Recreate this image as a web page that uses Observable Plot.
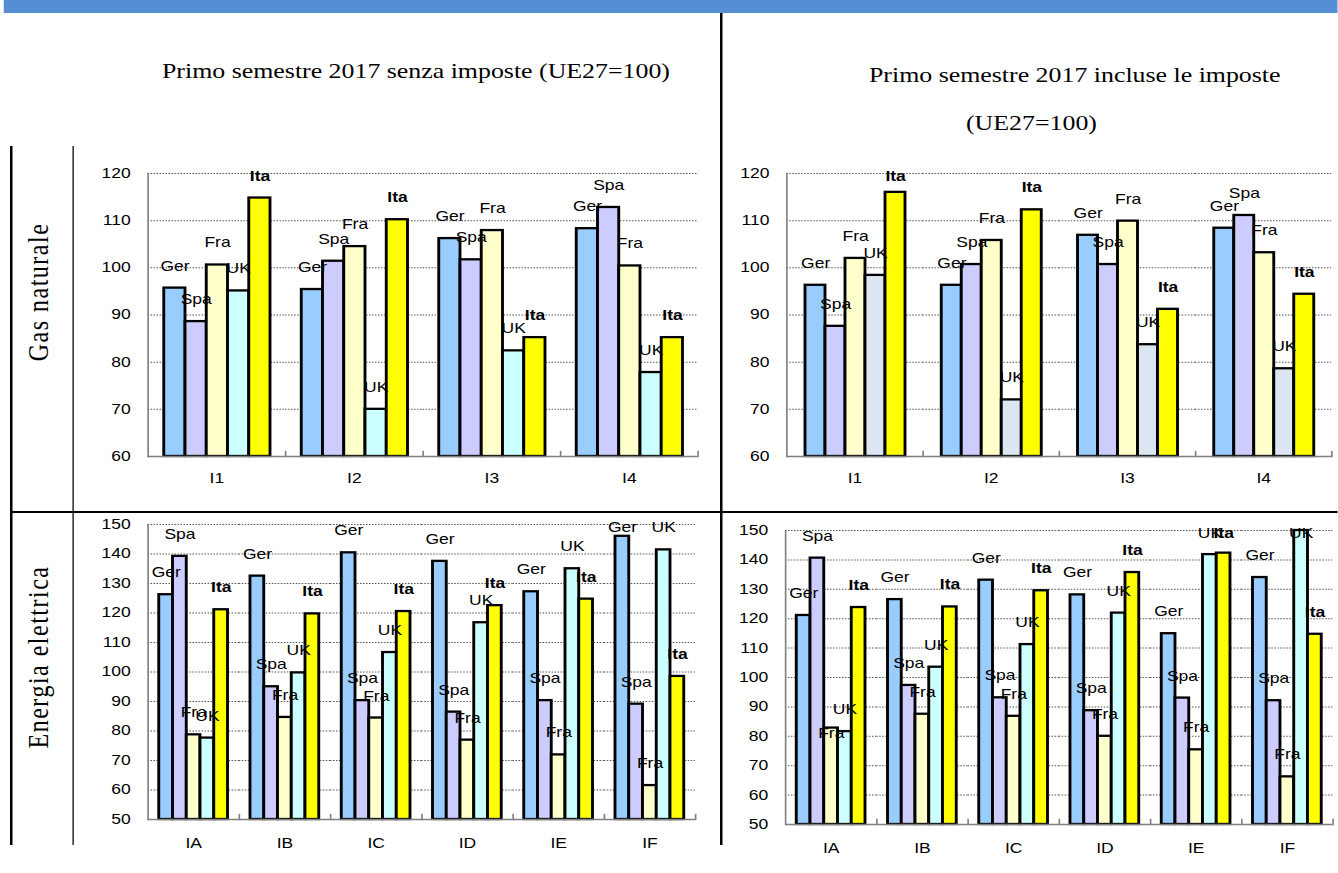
<!DOCTYPE html>
<html>
<head>
<meta charset="utf-8">
<script src="https://cdn.jsdelivr.net/npm/d3@7"></script>
<script src="https://cdn.jsdelivr.net/npm/@observablehq/plot@0.6"></script>
<style>
  html, body { margin: 0; padding: 0; background: #fff; width: 1338px; height: 873px; overflow: hidden; }
  #page { position: absolute; left: 0; top: 0; width: 1070.4px; height: 873px; transform: scaleX(1.25); transform-origin: 0 0; }
  .abs { position: absolute; }
  .title { font-family: "Liberation Serif", "Times New Roman", serif; font-size: 20.7px; line-height: 1; color: #000; white-space: nowrap; }
  .row { font-family: "Liberation Serif", "Times New Roman", serif; font-size: 24px; line-height: 1; letter-spacing: 1.5px; color: #000; white-space: nowrap; transform: translate(-50%, -50%) rotate(-90deg); }
  .line { background: #000; }
</style>
</head>
<body>
<div id="page"></div>
<script>
// Countries plotted in every group, in drawing order
const countries = ["Ger", "Spa", "Fra", "UK", "Ita"];

// Consumer bands
const gasCategories = ["I1", "I2", "I3", "I4"];
const elecCategories = ["IA", "IB", "IC", "ID", "IE", "IF"];

// Y tick values
const gasTicks = [60, 70, 80, 90, 100, 110, 120];
const elecTicks = [50, 60, 70, 80, 90, 100, 110, 120, 130, 140, 150];

// Price index (EU27 = 100), one row per band, columns Ger, Spa, Fra, UK, Ita
const gasNoTax = [
  [95.7, 88.6, 100.6, 95.1, 114.8],
  [95.4, 101.4, 104.5, 70.0, 110.2],
  [106.2, 101.7, 107.9, 82.4, 85.2],
  [108.3, 112.8, 100.4, 77.8, 85.2]
];
const gasWithTax = [
  [96.3, 87.6, 102.0, 98.4, 116.0],
  [96.3, 100.7, 105.8, 72.0, 112.3],
  [106.9, 100.7, 109.9, 83.7, 91.2],
  [108.4, 111.1, 103.2, 78.6, 94.4]
];
const elecNoTax = [
  [126.2, 139.2, 78.7, 77.6, 121.1],
  [132.5, 95.0, 84.6, 99.7, 119.7],
  [140.4, 90.3, 84.4, 106.6, 120.5],
  [137.5, 86.4, 76.9, 116.7, 122.5],
  [127.2, 90.3, 71.9, 135.0, 124.7],
  [146.0, 89.1, 61.5, 141.4, 98.5]
];
const elecWithTax = [
  [121.1, 140.6, 82.8, 81.6, 123.8],
  [126.5, 97.3, 87.5, 103.5, 124.0],
  [133.1, 93.1, 86.8, 111.2, 129.5],
  [128.1, 88.7, 80.0, 121.9, 135.7],
  [114.9, 93.0, 75.4, 141.8, 142.3],
  [134.0, 92.1, 66.2, 150.0, 114.7]
];

// Bar fills
const fillsCyanUK = ["#99CCFF", "#CCCCFF", "#FFFFCC", "#CCFFFF", "#FFFF00"];
const fillsGreyUK = ["#99CCFF", "#CCCCFF", "#FFFFCC", "#DCE6F2", "#FFFF00"];

// The page is laid out in a coordinate system that is widened by this factor
const S = 1.25;
const page = document.getElementById("page");

function add(cls, css, text) {
  const el = document.createElement("div");
  el.className = "abs " + cls;
  Object.assign(el.style, css);
  if (text) el.textContent = text;
  page.appendChild(el);
  return el;
}
const px = v => v + "px";
const X = v => px(v / S);

// Frame: blue header band and the table rules
add("", {left: X(4), top: px(0), width: X(1338 - 4), height: px(13), background: "#558ED5"});
add("line", {left: X(720), top: px(13), width: X(2), height: px(832)});
add("line", {left: X(10), top: px(146), width: X(2), height: px(699)});
add("line", {left: X(72), top: px(146), width: X(2), height: px(699)});
add("line", {left: X(10), top: px(511), width: X(1338 - 10), height: px(2)});

// Column headings
add("title", {left: X(162), top: px(60.7)}, "Primo semestre 2017 senza imposte (UE27=100)");
add("title", {left: X(869), top: px(64.7)}, "Primo semestre 2017 incluse le imposte");
add("title", {left: X(966), top: px(113.4)}, "(UE27=100)");

// Row headings
add("row", {left: X(37), top: px(292)}, "Gas naturale");
add("row", {left: X(38), top: px(657)}, "Energia elettrica");

function chart({categories, rows, ticks, fills, plotLeft, plotTop, plotW, plotH, labelPad, nudge = {}}) {
  const data = categories.flatMap((c, i) =>
    countries.map((k, j) => ({category: c, country: k, value: rows[i][j]})));
  const yMin = ticks[0], yMax = ticks[ticks.length - 1];
  const unitsPerPx = (yMax - yMin) / plotH;
  const mL = 60 / S, mR = 6 / S, mT = 15, mB = 42;
  // keep value labels inside the plotting area; some labels are moved down to clear a neighbour
  const labelTop = yMax - 25 * unitsPerPx;
  const labelY = d => Math.min(d.value, labelTop) - (nudge[d.category + "|" + d.country] || 0) * unitsPerPx;
  const labelOpts = {fx: "category", x: "country", y: labelY, text: "country", dy: -22, fill: "#000"};

  const svg = Plot.plot({
    width: mL + plotW / S + mR,
    height: mT + plotH + mB,
    marginLeft: mL, marginRight: mR, marginTop: mT, marginBottom: mB,
    style: {fontFamily: "'Liberation Sans', Arial, sans-serif", fontSize: "14px", color: "#000", background: "none", overflow: "visible"},
    fx: {domain: categories, padding: 0, label: null},
    x: {domain: countries, paddingInner: 0, paddingOuter: 0.73, axis: null},
    y: {domain: [yMin, yMax], label: null},
    color: {domain: countries, range: fills},
    marks: [
      Plot.ruleY(ticks.slice(1), {stroke: "#555", strokeWidth: 1, strokeDasharray: "1.2,1.2"}),
      Plot.barY(data, {fx: "category", x: "country", y1: yMin, y2: "value", fill: "country", stroke: "#000", strokeWidth: 2.3}),
      Plot.ruleY([yMin], {stroke: "#7f7f7f", strokeWidth: 1.5}),
      Plot.frame({anchor: "left", facetAnchor: "left", stroke: "#7f7f7f", strokeWidth: 1.3}),
      Plot.frame({anchor: "right", stroke: "#7f7f7f", strokeWidth: 1.3, insetTop: plotH - 5}),
      Plot.axisY(ticks, {tickSize: 0, tickPadding: 14, label: null}),
      Plot.axisFx({anchor: "bottom", tickSize: 0, tickPadding: labelPad, label: null}),
      Plot.text(data.filter(d => d.country !== "Ita"), labelOpts),
      Plot.text(data.filter(d => d.country === "Ita"), {...labelOpts, fontWeight: "bold"})
    ]
  });
  svg.style.position = "absolute";
  svg.style.left = px((plotLeft - 60) / S);
  svg.style.top = px(plotTop - mT);
  page.appendChild(svg);
}

chart({categories: gasCategories, rows: gasNoTax, ticks: gasTicks, fills: fillsCyanUK,
       plotLeft: 147, plotTop: 173, plotW: 550, plotH: 283, labelPad: 17});
chart({categories: gasCategories, rows: gasWithTax, ticks: gasTicks, fills: fillsGreyUK,
       plotLeft: 784, plotTop: 173, plotW: 549, plotH: 283, labelPad: 17});
chart({categories: elecCategories, rows: elecNoTax, ticks: elecTicks, fills: fillsCyanUK,
       plotLeft: 146, plotTop: 524, plotW: 549, plotH: 295, labelPad: 19});
chart({categories: elecCategories, rows: elecWithTax, ticks: elecTicks, fills: fillsCyanUK,
       plotLeft: 782, plotTop: 530, plotW: 552, plotH: 294, labelPad: 19,
       nudge: {"IA|Fra": 27}});
</script>
</body>
</html>
